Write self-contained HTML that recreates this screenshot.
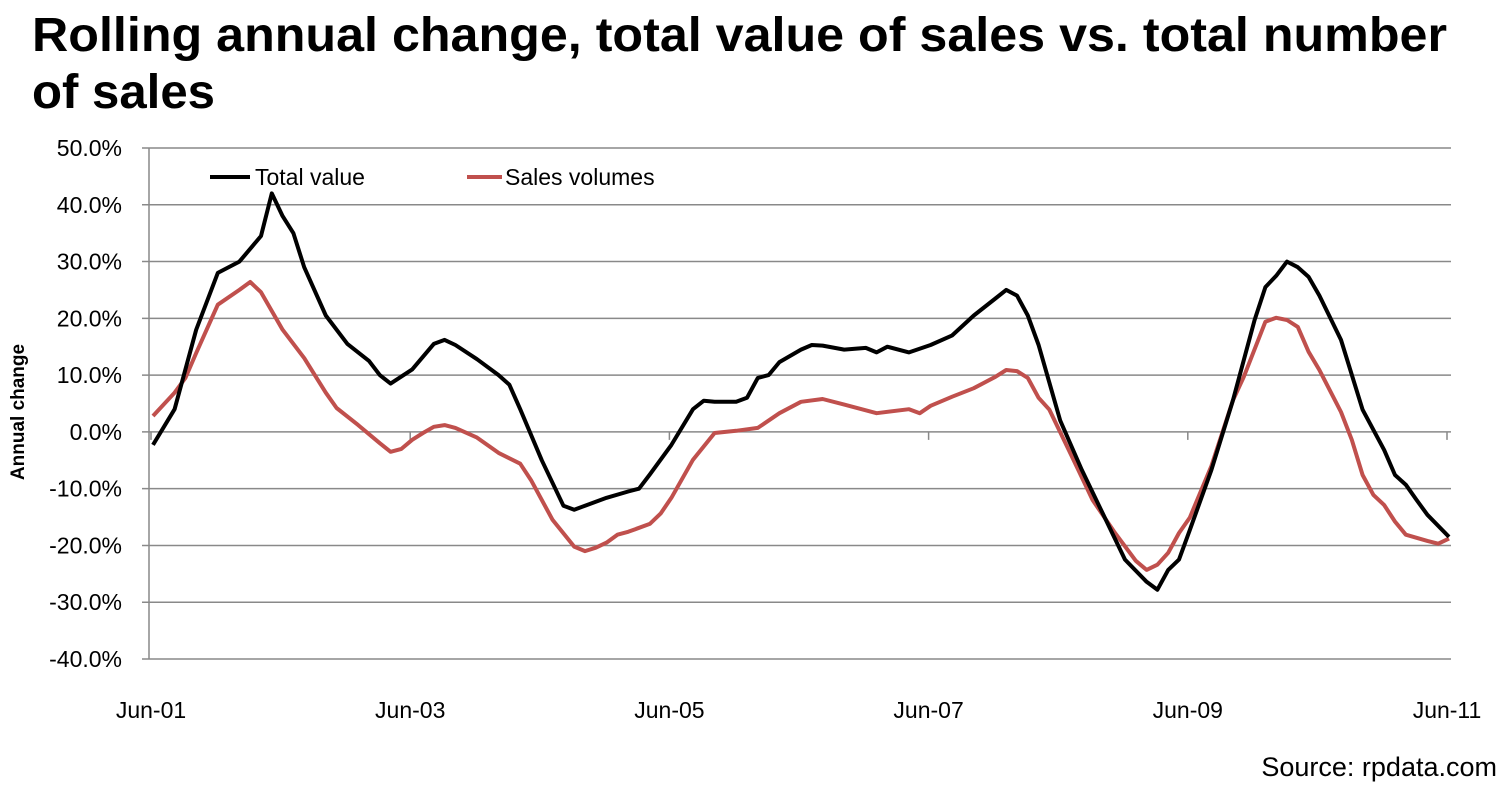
<!DOCTYPE html>
<html><head><meta charset="utf-8"><style>
body{margin:0;background:#fff;width:1509px;height:788px;overflow:hidden;font-family:"Liberation Sans",sans-serif}
</style></head><body>
<svg width="1509" height="788" xmlns="http://www.w3.org/2000/svg">
<text x="32" y="51" font-size="48" font-weight="bold" textLength="1415" lengthAdjust="spacingAndGlyphs">Rolling annual change, total value of sales vs. total number</text>
<text x="32" y="108" font-size="48" font-weight="bold" textLength="183" lengthAdjust="spacingAndGlyphs">of sales</text>
<g id="grid"></g>
<g id="ylabels" font-size="23" text-anchor="end"></g>
<g id="xlabels" font-size="23" text-anchor="middle"></g>
<text transform="translate(24,412) rotate(-90)" font-size="19" font-weight="bold" text-anchor="middle">Annual change</text>
<g id="series"></g>
<g>
<line x1="210" y1="177" x2="250" y2="177" stroke="#000" stroke-width="4"/>
<text x="255" y="185" font-size="23">Total value</text>
<line x1="467" y1="177" x2="502" y2="177" stroke="#c0504d" stroke-width="4"/>
<text x="505" y="185" font-size="23">Sales volumes</text>
</g>
<text x="1497" y="776" font-size="27" text-anchor="end">Source: rpdata.com</text>
</svg>
<script>
const yTicks=[50,40,30,20,10,0,-10,-20,-30,-40];
const xTickLabels=["Jun-01","Jun-03","Jun-05","Jun-07","Jun-09","Jun-11"];
const xTickMonths=[0,24,48,72,96,120];
const totalMonths=[0,2,4,6,8,10,11,12,13,14,16,18,20,21,22,24,26,27,28,30,32,33,34,36,38,39,40,42,44,45,46,48,50,51,52,54,55,56,57,58,60,61,62,64,66,67,68,70,72,74,76,78,79,80,81,82,84,86,88,90,92,93,94,95,96,98,100,102,103,104,105,106,107,108,110,112,114,115,116,117,118,120];
const totalValues=[-2.3,4,18,28,30,34.5,42,38,35,29,20.5,15.5,12.5,10,8.5,11,15.5,16.2,15.3,12.8,10,8.3,4,-5,-13,-13.7,-13,-11.6,-10.5,-10,-7.5,-2.3,4,5.5,5.3,5.3,6,9.5,10,12.3,14.5,15.3,15.2,14.5,14.8,14,15,14,15.3,17,20.5,23.5,25,24,20.5,15.3,2,-6.7,-14.6,-22.5,-26.4,-27.8,-24.3,-22.5,-17.3,-6.7,5.6,19.7,25.5,27.5,30,29,27.3,24,16.2,3.9,-3.2,-7.6,-9.3,-12,-14.6,-18.5];
const volMonths=[0,2,3,4,6,8,9,10,12,14,16,17,19,21,22,23,24,25,26,27,28,30,32,34,35,37,39,40,41,42,43,44,46,47,48,50,52,54,56,58,60,62,64,67,70,71,72,74,76,78,79,80,81,82,83,85,87,89,91,92,93,94,95,96,98,100,101,103,104,105,106,107,108,110,111,112,113,114,115,116,118,119,120];
const volValues=[2.8,6.9,9.5,13.9,22.4,25,26.4,24.6,18,13,6.9,4.2,1.2,-2,-3.5,-3,-1.4,-0.2,0.9,1.2,0.7,-1,-3.7,-5.6,-8.5,-15.5,-20.2,-21,-20.4,-19.5,-18.1,-17.6,-16.2,-14.4,-11.6,-4.9,-0.2,0.2,0.7,3.3,5.3,5.8,4.8,3.3,4,3.3,4.6,6.2,7.7,9.7,10.9,10.7,9.5,6,3.9,-4,-12,-17.6,-22.7,-24.3,-23.4,-21.3,-17.8,-15.1,-6,5.6,9.7,19.4,20.1,19.7,18.5,14.1,10.9,3.5,-1.4,-7.6,-11.1,-12.9,-15.8,-18.1,-19.2,-19.7,-18.8];
const NS="http://www.w3.org/2000/svg";
const X0=149,X1=1451,Y50=148,Y40=659;
function xs(m){return 153+m*(1449-153)/120;}
function ys(v){return Y50+(50-v)*(Y40-Y50)/90;}
function mk(tag,attrs,parent){const e=document.createElementNS(NS,tag);for(const k in attrs)e.setAttribute(k,attrs[k]);parent.appendChild(e);return e;}
const grid=document.getElementById('grid'),yl=document.getElementById('ylabels'),xl=document.getElementById('xlabels'),ser=document.getElementById('series');
yTicks.forEach(t=>{
 const l=mk('line',{x1:X0-7,x2:X1,y1:ys(t),y2:ys(t),stroke:'#898989','stroke-width':1.5},grid);
 
 
 const tx=mk('text',{x:122,y:ys(t)+8},yl);tx.textContent=t.toFixed(1)+'%';
 
 
});
const ax=mk('line',{x1:X0,x2:X0,y1:Y50,y2:Y40,stroke:'#898989','stroke-width':1.5},grid);


xTickMonths.forEach((m,i)=>{
 const tk=mk('line',{x1:xs(m)-2,x2:xs(m)-2,y1:ys(0),y2:ys(0)+8,stroke:'#898989','stroke-width':1.5},grid);
 
 
 const tx=mk('text',{x:xs(m)-2,y:718},xl);tx.textContent=xTickLabels[i];
 
 
});
function path(ms,vs){return ms.map((m,i)=>(i?'L':'M')+xs(m).toFixed(1)+','+ys(vs[i]).toFixed(1)).join(' ');}
const pv=mk('path',{d:path(volMonths,volValues),fill:'none',stroke:'#c0504d','stroke-width':4,'stroke-linejoin':'round'},ser);


const pt=mk('path',{d:path(totalMonths,totalValues),fill:'none',stroke:'#000','stroke-width':4,'stroke-linejoin':'round'},ser);


</script>
</body></html>
